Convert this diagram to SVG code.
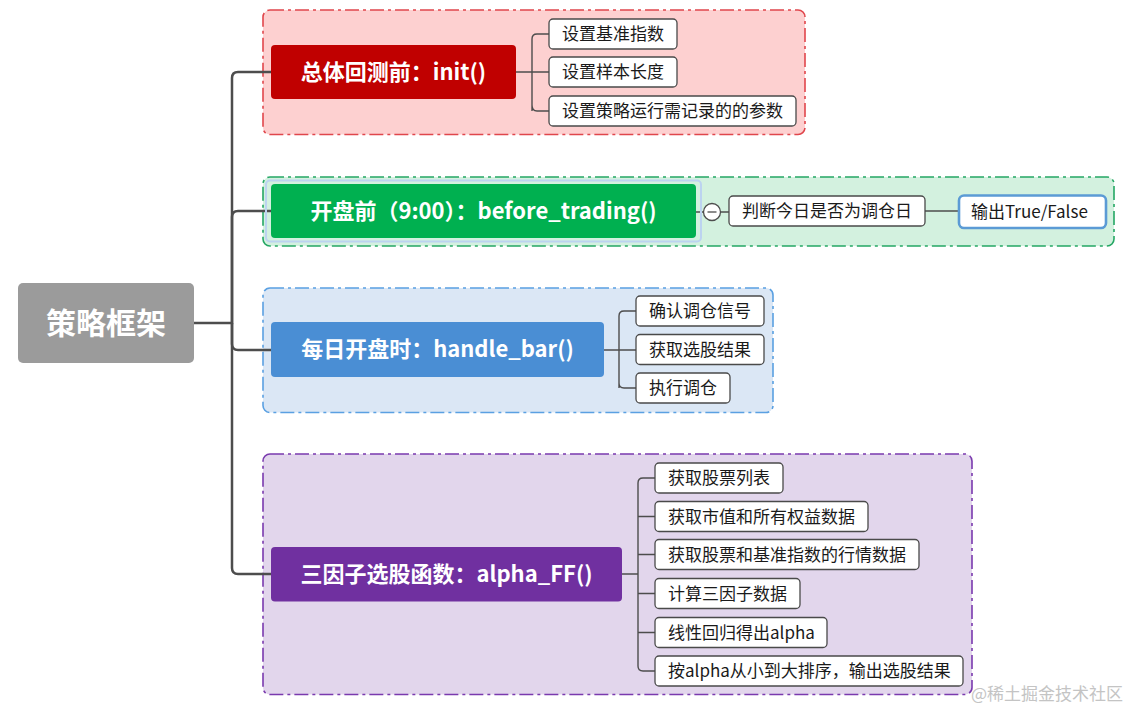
<svg xmlns="http://www.w3.org/2000/svg" width="1137" height="711" viewBox="0 0 1137 711">
<style>
.cont{stroke-width:1.6;stroke-dasharray:14 4 3 4}
.main{fill:#fff;font-family:"Noto Sans CJK SC","Noto Sans",sans-serif;font-weight:bold;font-size:22px;text-anchor:middle}
.leaf rect{fill:#fff;stroke:#4a4a4a;stroke-width:1.3}
.leaf text{fill:#1a1a1a;font-family:"Noto Sans CJK SC","Noto Sans",sans-serif;font-size:17px}
.trunk{fill:none;stroke:#4d4d4d;stroke-width:2.5}
.sub{fill:none;stroke:#4d4d4d;stroke-width:1.4}
</style>
<rect width="1137" height="711" fill="#fff"/>
<!-- containers -->
<rect class="cont" x="263" y="10" width="542" height="124.5" rx="7" fill="#fdd0d0" stroke="#e0464c"/>
<rect class="cont" x="263" y="177" width="851" height="69" rx="7" fill="#d3f1df" stroke="#25a764"/>
<rect class="cont" x="263" y="288" width="510" height="124.5" rx="7" fill="#dbe7f5" stroke="#5aa0e2"/>
<rect class="cont" x="263" y="454" width="709" height="240.5" rx="7" fill="#e2d6ec" stroke="#7a3aae"/>
<!-- connectors -->
<g id="connectors">
<path class="trunk" d="M194,323 H232 V78 Q232,72 238,72 H271"/>
<path class="trunk" d="M232,323 V217 Q232,211 238,211 H271"/>
<path class="trunk" d="M232,323 V344 Q232,350 238,350 H271"/>
<path class="trunk" d="M232,323 V568 Q232,574 238,574 H271"/>
<path class="sub" d="M516,72 H549 M532,111 V39 Q532,34 537,34 H549 M532,105 Q532,111 537,111 H549"/>
<path class="sub" d="M696,212 H703.5 M720.5,212 H729 M925,211 H959"/>
<path class="sub" d="M604,350 H636 M619,388 V316 Q619,311 624,311 H636 M619,383 Q619,388 624,388 H636"/>
<path class="sub" d="M622,574 H638 M638,666 V483 Q638,478 643,478 H655 M638,516.5 H655 M638,554.5 H655 M638,593.5 H655 M638,632.5 H655 M638,666 Q638,671 643,671 H655"/>
</g>
<!-- root -->
<g id="root">
<rect x="18" y="283" width="176" height="80" rx="5" fill="#9b9b9b"/>
<text x="106" y="334" fill="#fff" font-family="'Noto Sans CJK SC',sans-serif" font-weight="bold" font-size="30" text-anchor="middle">策略框架</text>
</g>
<!-- group 1 -->
<g id="n-init">
<rect x="271" y="45" width="245" height="54" rx="4" fill="#c00000"/>
<text class="main" x="393.5" y="80">总体回测前：init()</text>
</g>
<g id="n-init-1" class="leaf"><rect x="549" y="19" width="128" height="30" rx="4"/><text x="562" y="40">设置基准指数</text></g>
<g id="n-init-2" class="leaf"><rect x="549" y="57" width="128" height="30" rx="4"/><text x="562" y="78">设置样本长度</text></g>
<g id="n-init-3" class="leaf"><rect x="549" y="96" width="247" height="30" rx="4"/><text x="562" y="117">设置策略运行需记录的的参数</text></g>
<!-- group 2 -->
<g id="n-before">
<rect x="266" y="180.5" width="435" height="61" rx="4" fill="none" stroke="#bcd3f0" stroke-width="2"/>
<rect x="271" y="184" width="425" height="54" rx="4" fill="#00b050"/>
<text class="main" x="483.5" y="219">开盘前（9:00）：before_trading()</text>
</g>
<g id="collapse">
<circle cx="712" cy="212" r="8.5" fill="#fff" stroke="#4d4d4d" stroke-width="1.3"/>
<path d="M707.5,212 H716.5" stroke="#4d4d4d" stroke-width="1.3"/>
</g>
<g id="n-before-1" class="leaf"><rect x="729" y="196" width="196" height="30" rx="4"/><text x="742" y="217">判断今日是否为调仓日</text></g>
<g id="n-before-2" class="leaf"><rect x="959" y="195.5" width="147" height="32.5" rx="5" style="stroke:#5b9bd5;stroke-width:2.6"/><text x="971" y="218">输出True/False</text></g>
<!-- group 3 -->
<g id="n-handle">
<rect x="271" y="322" width="333" height="55" rx="4" fill="#4a8ed4"/>
<text class="main" x="437.5" y="357">每日开盘时：handle_bar()</text>
</g>
<g id="n-handle-1" class="leaf"><rect x="636" y="296" width="128" height="30" rx="4"/><text x="649" y="317">确认调仓信号</text></g>
<g id="n-handle-2" class="leaf"><rect x="636" y="334.5" width="128" height="30" rx="4"/><text x="649" y="355.5">获取选股结果</text></g>
<g id="n-handle-3" class="leaf"><rect x="636" y="373" width="94" height="30" rx="4"/><text x="649" y="394">执行调仓</text></g>
<!-- group 4 -->
<g id="n-alpha">
<rect x="271" y="547" width="351" height="54.5" rx="4" fill="#7030a0"/>
<text class="main" x="446.5" y="582">三因子选股函数：alpha_FF()</text>
</g>
<g id="n-alpha-1" class="leaf"><rect x="655" y="463" width="128" height="30" rx="4"/><text x="668" y="484">获取股票列表</text></g>
<g id="n-alpha-2" class="leaf"><rect x="655" y="501.5" width="213" height="30" rx="4"/><text x="668" y="522.5">获取市值和所有权益数据</text></g>
<g id="n-alpha-3" class="leaf"><rect x="655" y="539.5" width="264" height="30" rx="4"/><text x="668" y="560.5">获取股票和基准指数的行情数据</text></g>
<g id="n-alpha-4" class="leaf"><rect x="655" y="578.5" width="145" height="30" rx="4"/><text x="668" y="599.5">计算三因子数据</text></g>
<g id="n-alpha-5" class="leaf"><rect x="655" y="617.5" width="172" height="30" rx="4"/><text x="668" y="638.5">线性回归得出alpha</text></g>
<g id="n-alpha-6" class="leaf"><rect x="655" y="656" width="308" height="30" rx="4"/><text x="668" y="677">按alpha从小到大排序，输出选股结果</text></g>
<!-- watermark -->
<text x="971" y="700" fill="#c4c4c4" font-family="'Noto Sans CJK SC',sans-serif" font-size="17">@稀土掘金技术社区</text>
</svg>
